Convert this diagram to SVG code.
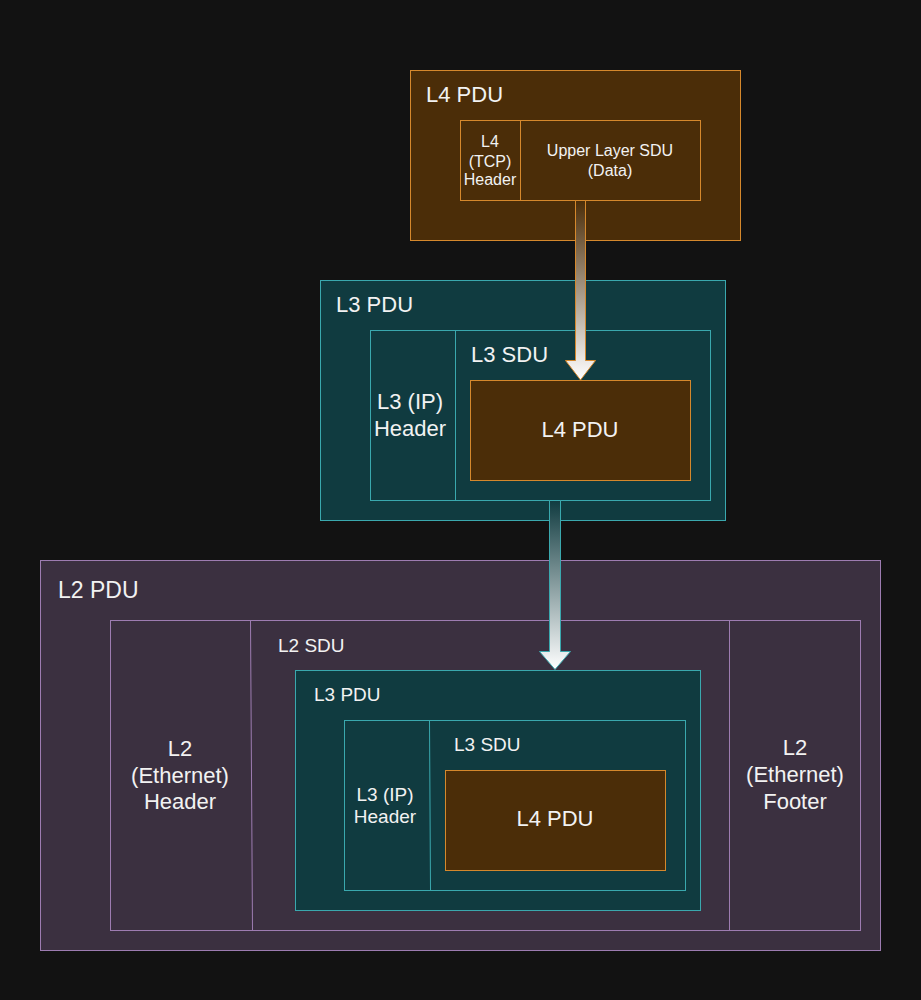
<svg xmlns="http://www.w3.org/2000/svg" width="921" height="1000" viewBox="0 0 921 1000">
<defs>
<style>
.l4{fill:#4b2d08;stroke:#d5882c;stroke-width:1}
.l3{fill:#103b40;stroke:#3aa8ae;stroke-width:1}
.l2{fill:#3b3040;stroke:#9d7cb1;stroke-width:1}
.t{font-family:"Liberation Sans",Arial,sans-serif;fill:#f2f2f2}
.c{text-anchor:middle}
.big{font-size:22px}
.sm{font-size:19px}
.xs{font-size:16px}
</style>
<linearGradient id="g1" x1="0" y1="0" x2="0" y2="1">
<stop offset="0" stop-color="#4b2d08"/>
<stop offset="1" stop-color="#ffffff"/>
</linearGradient>
<linearGradient id="g2" x1="0" y1="0" x2="0" y2="1">
<stop offset="0" stop-color="#103b40"/>
<stop offset="1" stop-color="#ffffff"/>
</linearGradient>
</defs>
<rect x="0" y="0" width="921" height="1000" fill="#121212"/>

<g id="l4pdu">
<rect class="l4" x="410.5" y="70.5" width="330" height="170"/>
<text class="t big" x="426" y="102">L4 PDU</text>
<rect class="l4" x="460.5" y="120.5" width="240" height="80"/>
<line x1="520.5" y1="120.5" x2="520.5" y2="200.5" stroke="#d5882c"/>
<text class="t xs c" x="490" y="147">L4</text>
<text class="t xs c" x="490" y="167">(TCP)</text>
<text class="t xs c" x="490" y="185">Header</text>
<text class="t xs c" x="610" y="156">Upper Layer SDU</text>
<text class="t xs c" x="610" y="176">(Data)</text>
</g>

<g id="l3pdu">
<rect class="l3" x="320.5" y="280.5" width="405" height="240"/>
<text class="t big" x="336" y="312">L3 PDU</text>
<rect class="l3" x="370.5" y="330.5" width="340" height="170"/>
<line x1="455.5" y1="330.5" x2="455.5" y2="500.5" stroke="#3aa8ae"/>
<text class="t big" x="471" y="362">L3 SDU</text>
<text class="t big c" x="410" y="409">L3 (IP)</text>
<text class="t big c" x="410" y="436">Header</text>
<rect class="l4" x="470.5" y="380.5" width="220" height="100"/>
<text class="t big c" x="580" y="437">L4 PDU</text>
</g>

<g id="l2pdu">
<rect class="l2" x="40.5" y="560.5" width="840" height="390"/>
<text class="t" font-size="23" x="58" y="598">L2 PDU</text>
<rect class="l2" x="110.5" y="620.5" width="750" height="310"/>
<line x1="250.5" y1="620.5" x2="252.5" y2="930.5" stroke="#9d7cb1"/>
<line x1="729.5" y1="620.5" x2="729.5" y2="930.5" stroke="#9d7cb1"/>
<text class="t sm" x="278" y="652">L2 SDU</text>
<text class="t big c" x="180" y="756">L2</text>
<text class="t big c" x="180" y="783">(Ethernet)</text>
<text class="t big c" x="180" y="809">Header</text>
<text class="t big c" x="795" y="755">L2</text>
<text class="t big c" x="795" y="782">(Ethernet)</text>
<text class="t big c" x="795" y="809">Footer</text>
</g>

<g id="l3pdu-inner">
<rect class="l3" x="295.5" y="670.5" width="405" height="240"/>
<text class="t sm" x="314" y="701">L3 PDU</text>
<rect class="l3" x="344.5" y="720.5" width="341" height="170"/>
<line x1="429.5" y1="720.5" x2="430.5" y2="890.5" stroke="#3aa8ae"/>
<text class="t sm" x="454" y="751">L3 SDU</text>
<text class="t sm c" x="385" y="801">L3 (IP)</text>
<text class="t sm c" x="385" y="823">Header</text>
<rect class="l4" x="445.5" y="770.5" width="220" height="100"/>
<text class="t big c" x="555" y="826">L4 PDU</text>
</g>

<g id="connectors">
<path d="M575.5,200.5 L585.5,200.5 L585.5,360.5 L595.5,360.5 L580.5,380 L565.5,360.5 L575.5,360.5 Z" fill="url(#g1)" stroke="#d5882c" stroke-width="1"/>
<path d="M549.5,500.5 L560.5,500.5 L560.5,651.5 L570.5,651.5 L555,669.5 L539.5,651.5 L549.5,651.5 Z" fill="url(#g2)" stroke="#3aa8ae" stroke-width="1"/>
</g>
</svg>
